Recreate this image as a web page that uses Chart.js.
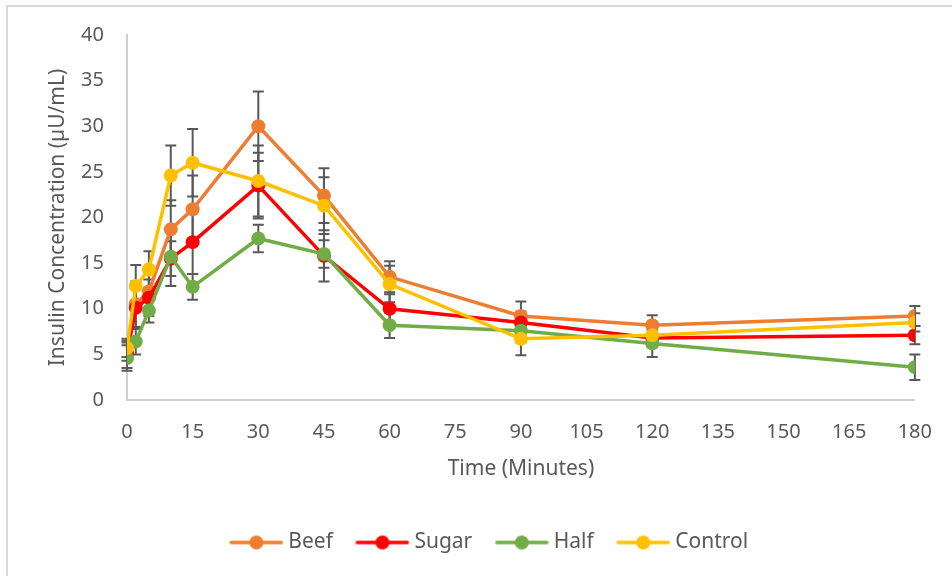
<!DOCTYPE html>
<html>
<head>
<meta charset="utf-8">
<script src="https://cdn.jsdelivr.net/npm/chart.js@4.4.1/dist/chart.umd.min.js"></script>
<style>
  html, body { margin: 0; padding: 0; background: #fff; }
  #wrap { width: 952px; height: 576px; position: relative; }
</style>
</head>
<body>
<div id="wrap"><canvas id="insulinChart" width="952" height="576"></canvas></div>
<script>
// Sampling times (minutes)
const times = [0, 2, 5, 10, 15, 30, 45, 60, 90, 120, 180];

// Mean insulin values
const beef    = [5.3, 10.5, 11.9, 18.7, 20.9, 30.0, 22.4, 13.5, 9.2, 8.2, 9.2];
const sugar   = [5.0, 10.1, 11.2, 15.5, 17.3, 23.5, 15.8, 10.0, 8.5, 6.8, 7.1];
const half    = [4.6,  6.4,  9.8, 15.7, 12.4, 17.7, 16.0,  8.2, 7.6, 6.2, 3.6];
const control = [5.7, 12.5, 14.3, 24.6, 26.0, 24.0, 21.3, 12.7, 6.7, 7.1, 8.5];

// Error bar sizes (+/-)
const beefErr    = [1.0, 2.5, 2.3, 3.2, 3.7, 3.8, 3.0, 1.7, 1.6, 1.1, 1.1];
const sugarErr   = [1.5, 2.3, 2.0, 1.9, 3.5, 3.6, 2.8, 1.6, 1.2, 1.0, 1.0];
const halfErr    = [1.4, 1.4, 1.3, 3.2, 1.4, 1.5, 1.5, 1.4, 1.3, 1.5, 1.4];
const controlErr = [1.0, 2.3, 2.0, 3.3, 3.7, 3.9, 3.1, 2.0, 1.8, 1.2, 1.0];

const seriesNames = ["Beef", "Sugar", "Half", "Control"];
const seriesColors = ["#ED7D31", "#FF0000", "#70AD47", "#FFC000"];
const seriesValues = [beef, sugar, half, control];
const seriesErrors = [beefErr, sugarErr, halfErr, controlErr];

const FONT = "'Noto Sans', sans-serif";
const TEXT_COLOR = "#595959";

// little line+dot image for the legend
function legendIcon(color) {
  const c = document.createElement("canvas");
  c.width = 54;
  c.height = 16;
  const g = c.getContext("2d");
  g.strokeStyle = color;
  g.lineWidth = 3.5;
  g.lineCap = "round";
  g.beginPath();
  g.moveTo(2, 8);
  g.lineTo(52, 8);
  g.stroke();
  g.fillStyle = color;
  g.beginPath();
  g.arc(27, 8, 7, 0, Math.PI * 2);
  g.fill();
  return c;
}

const datasets = seriesNames.map((name, i) => ({
  label: name,
  data: times.map((t, j) => ({ x: t, y: seriesValues[i][j] })),
  errors: seriesErrors[i],
  borderColor: seriesColors[i],
  backgroundColor: seriesColors[i],
  borderWidth: 3.5,
  pointRadius: 7,
  pointHoverRadius: 7,
  pointBorderWidth: 0,
  tension: 0,
  order: seriesNames.length - 1 - i, // later series on top, like Excel
}));

// Error bars drawn with the chart's scales
const errorBars = {
  id: "errorBars",
  beforeDatasetsDraw(chart) {
    const ctx = chart.ctx;
    const xs = chart.scales.x;
    const ys = chart.scales.y;
    ctx.save();
    ctx.strokeStyle = "#595959";
    ctx.lineWidth = 2;
    chart.data.datasets.forEach((ds, di) => {
      if (!chart.isDatasetVisible(di)) return;
      ds.data.forEach((p, j) => {
        const e = ds.errors[j];
        const x = xs.getPixelForValue(p.x);
        const yTop = ys.getPixelForValue(p.y + e);
        const yBot = ys.getPixelForValue(p.y - e);
        ctx.beginPath();
        ctx.moveTo(x, yTop);
        ctx.lineTo(x, yBot);
        ctx.moveTo(x - 5.5, yTop);
        ctx.lineTo(x + 5.5, yTop);
        ctx.moveTo(x - 5.5, yBot);
        ctx.lineTo(x + 5.5, yBot);
        ctx.stroke();
      });
    });
    ctx.restore();
  },
};

// light frame like the Excel chart area border, and nudge the legend right
const frame = {
  id: "frame",
  afterLayout(chart) {
    chart.legend.left += 31;
    chart.legend.right += 31;
  },
  beforeDraw(chart) {
    const ctx = chart.ctx;
    ctx.save();
    ctx.fillStyle = "#fff";
    ctx.fillRect(0, 0, chart.width, chart.height);
    ctx.strokeStyle = "#d9d9d9";
    ctx.lineWidth = 2;
    ctx.beginPath();
    ctx.moveTo(7, chart.height + 5);
    ctx.lineTo(7, 6);
    ctx.lineTo(chart.width + 5, 6);
    ctx.stroke();
    ctx.restore();
  },
};

new Chart(document.getElementById("insulinChart"), {
  type: "line",
  data: { datasets: datasets },
  plugins: [frame, errorBars],
  options: {
    responsive: false,
    animation: false,
    layout: { padding: { left: 0, right: 31, top: 33, bottom: 13 } },
    plugins: {
      tooltip: { enabled: false },
      legend: {
        position: "bottom",
        labels: {
          usePointStyle: true,
          pointStyleWidth: 43,
          padding: 28,
          color: TEXT_COLOR,
          font: { family: FONT, size: 21 },
          generateLabels(chart) {
            return chart.data.datasets.map((ds, i) => ({
              text: ds.label,
              fillStyle: ds.backgroundColor,
              strokeStyle: ds.borderColor,
              lineWidth: 0,
              pointStyle: legendIcon(ds.borderColor),
              hidden: !chart.isDatasetVisible(i),
              datasetIndex: i,
              fontColor: TEXT_COLOR,
            }));
          },
        },
      },
    },
    scales: {
      x: {
        type: "linear",
        min: 0,
        max: 180,
        grid: { display: false, drawTicks: false },
        border: { display: true, color: "#d0d0d0", width: 2 },
        ticks: {
          stepSize: 15,
          padding: 20,
          color: TEXT_COLOR,
          font: { family: FONT, size: 20 },
          maxRotation: 0,
        },
        title: {
          display: true,
          text: "Time (Minutes)",
          color: TEXT_COLOR,
          font: { family: FONT, size: 21 },
          padding: { top: 0, bottom: 22 },
        },
        afterFit(scale) { scale.height = 104; },
      },
      y: {
        min: 0,
        max: 40,
        grid: { display: false, drawTicks: false },
        border: { display: true, color: "#d0d0d0", width: 2 },
        ticks: {
          stepSize: 5,
          padding: 23,
          color: TEXT_COLOR,
          font: { family: FONT, size: 20 },
        },
        title: {
          display: true,
          text: "Insulin Concentration (µU/mL)",
          color: TEXT_COLOR,
          font: { family: FONT, size: 21 },
          padding: { top: 45, bottom: 0 },
        },
        afterFit(scale) { scale.width = 127; },
      },
    },
  },
});
</script>
</body>
</html>
